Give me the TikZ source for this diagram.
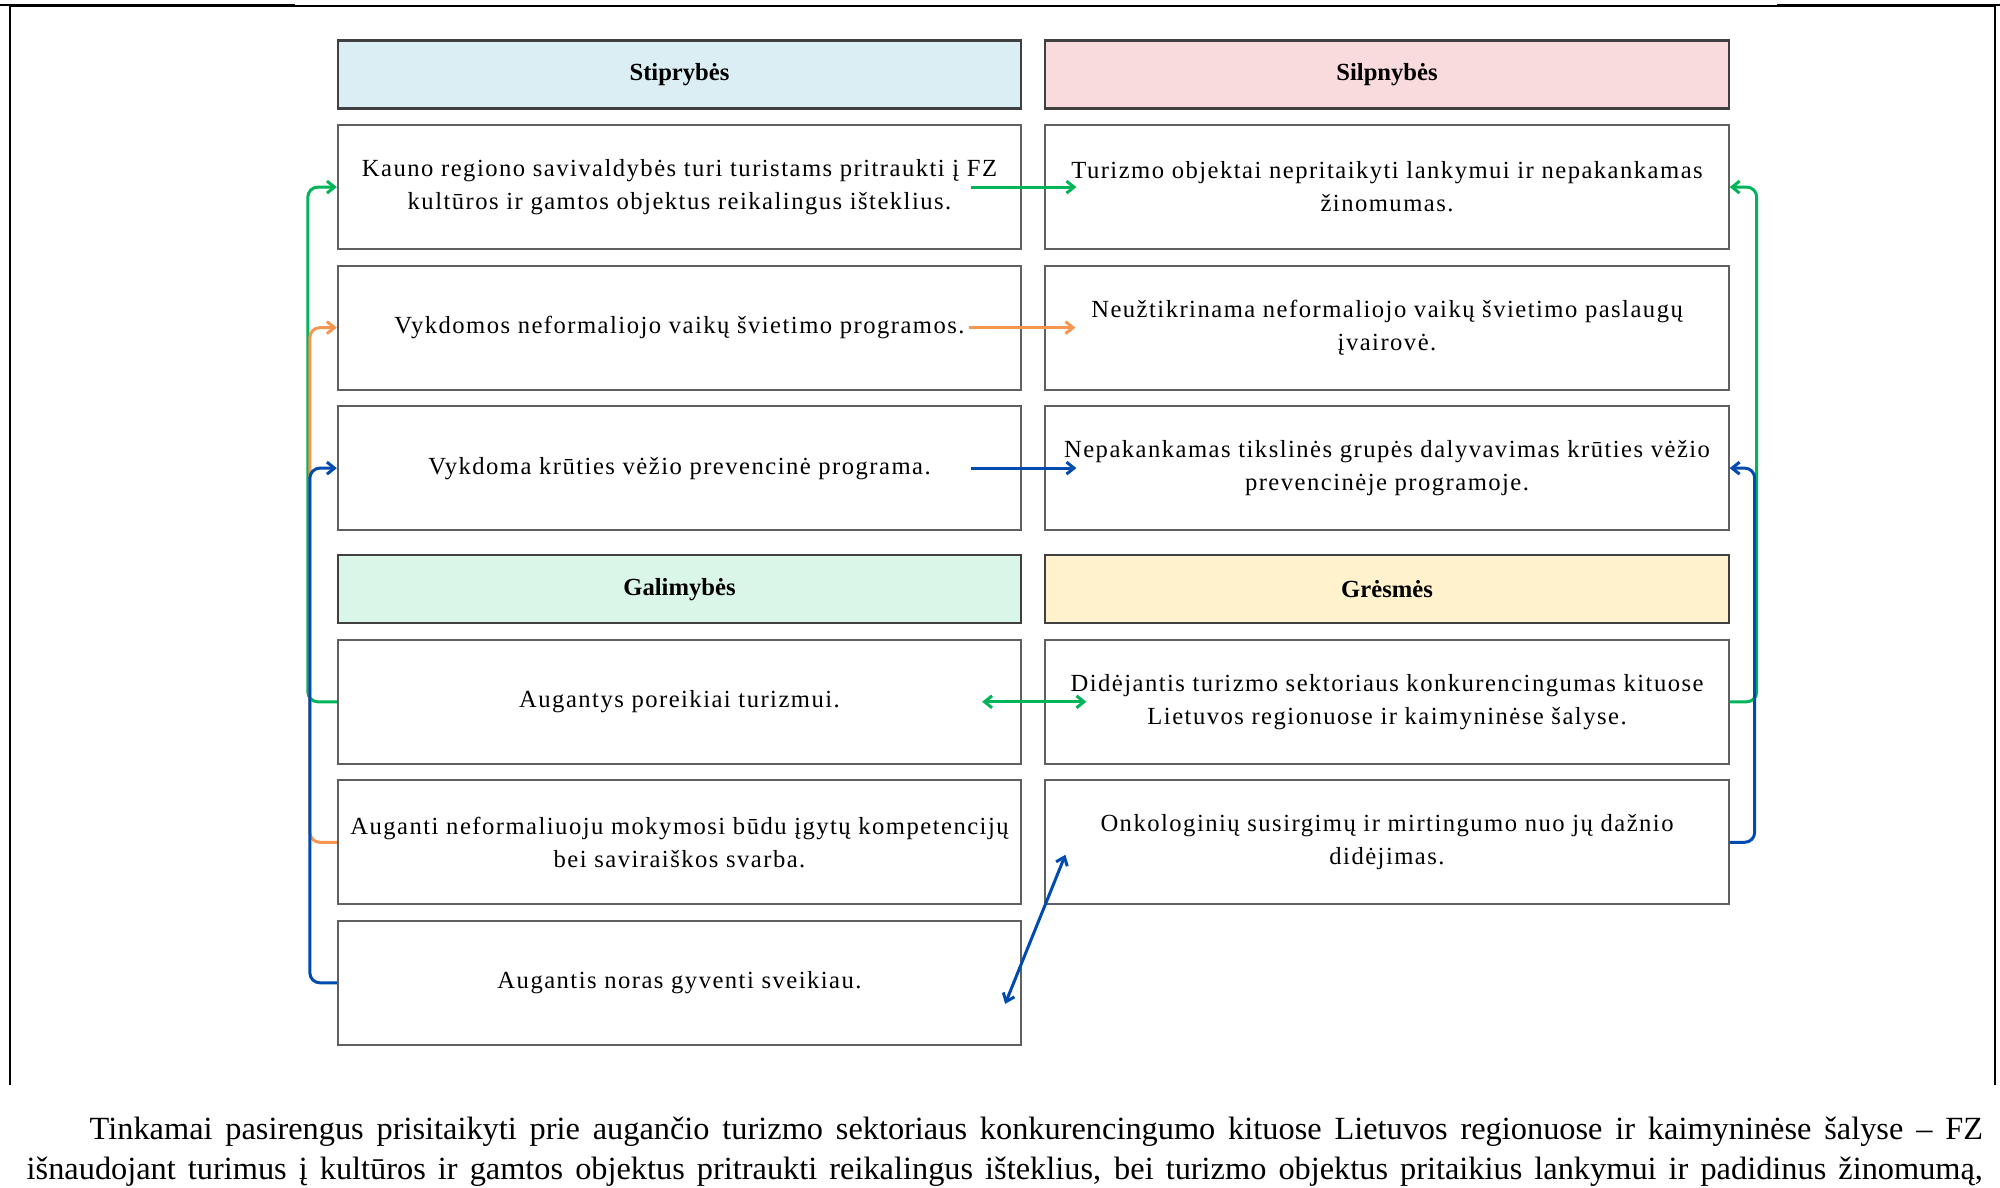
\documentclass[tikz,border=0pt]{standalone}
\usepackage{fontspec}
\setmainfont{Liberation Serif}
\newfontfamily\boxfont[LetterSpace=6]{Liberation Serif}
\usepackage{xcolor}
\usepackage{tikz}
\definecolor{strengthbg}{RGB}{218, 238, 243}
\definecolor{weakbg}{RGB}{249, 218, 221}
\definecolor{oppbg}{RGB}{218, 246, 233}
\definecolor{threatbg}{RGB}{255, 242, 204}
\definecolor{boxgray}{RGB}{96, 96, 96}
\definecolor{linkgreen}{RGB}{0, 180, 90}
\definecolor{linkorange}{RGB}{247, 150, 80}
\definecolor{linkblue}{RGB}{0, 75, 175}
\usetikzlibrary{arrows.meta, positioning, calc}

\begin{document}
\begin{tikzpicture}[
    x=0.01cm, y=-0.01cm,
    node distance=0.145cm and 0.22cm,
    head/.style={rectangle, draw=black!75, line width=0.6pt, minimum width=6.83cm,
                 minimum height=0.68cm, inner sep=0pt, font=\fontsize{7}{9}\selectfont\bfseries},
    cell/.style={rectangle, draw=boxgray, line width=0.55pt, fill=white, minimum width=6.83cm,
                 minimum height=1.24cm, inner sep=0pt, align=center, font=\boxfont\fontsize{7}{9.4}\selectfont},
    link/.style={line width=0.85pt, rounded corners=0.1cm, -{Straight Barb[length=0.75mm,width=1.2mm]}},
    twoway/.style={line width=0.85pt, {Straight Barb[length=0.75mm,width=1.2mm]}-{Straight Barb[length=0.75mm,width=1.2mm]}}
]
    \useasboundingbox (0,0) rectangle (2000,1187);

    % Page frame
    \draw[line width=0.37pt] (10,6) -- (1995,6);
    \draw[line width=0.77pt] (0,5) -- (295,5);
    \draw[line width=0.77pt] (1777,5) -- (2000,5);
    \draw[line width=0.57pt] (10,6) -- (10,1085);
    \draw[line width=0.57pt] (1995,6) -- (1995,1085);

    % Strengths / weaknesses
    \node[head, fill=strengthbg] at (679.5,74.5) (stip) {Stiprybės};
    \node[head, fill=weakbg, right=of stip] (silp) {Silpnybės};
    \node[cell, below=of stip] (s1) {Kauno regiono savivaldybės turi turistams pritraukti į FZ\\kultūros ir gamtos objektus reikalingus išteklius.};
    \node[cell, below=of s1] (s2) {Vykdomos neformaliojo vaikų švietimo programos.};
    \node[cell, below=of s2] (s3) {Vykdoma krūties vėžio prevencinė programa.};
    \node[cell, below=of silp] (w1) {Turizmo objektai nepritaikyti lankymui ir nepakankamas\\žinomumas.};
    \node[cell, below=of w1] (w2) {Neužtikrinama neformaliojo vaikų švietimo paslaugų\\įvairovė.};
    \node[cell, below=of w2] (w3) {Nepakankamas tikslinės grupės dalyvavimas krūties vėžio\\prevencinėje programoje.};

    % Opportunities / threats
    \node[head, fill=oppbg, below=0.23cm of s3] (gal) {Galimybės};
    \node[head, fill=threatbg, below=0.23cm of w3] (gres) {Grėsmės};
    \node[cell, below=of gal] (o1) {Augantys poreikiai turizmui.};
    \node[cell, below=of o1] (o2) {Auganti neformaliuoju mokymosi būdu įgytų kompetencijų\\bei saviraiškos svarba.};
    \node[cell, below=of o2] (o3) {Augantis noras gyventi sveikiau.};
    \node[cell, below=of gres] (t1) {Didėjantis turizmo sektoriaus konkurencingumas kituose\\Lietuvos regionuose ir kaimyninėse šalyse.};
    \node[cell, below=of t1] (t2) {Onkologinių susirgimų ir mirtingumo nuo jų dažnio\\didėjimas.};

    % Links
    \draw[link, linkgreen] (o1.west) -- ++(-29,0) |- (s1.west);
    \draw[link, linkorange] (o2.west) -- ++(-27,0) |- (s2.west);
    \draw[link, linkblue] (o3.west) -- ++(-27,0) |- (s3.west);
    \draw[link, linkgreen] (t1.east) -- ++(27,0) |- (w1.east);
    \draw[link, linkblue] (t2.east) -- ++(25,0) |- (w3.east);
    \draw[link, linkgreen] ([xshift=-0.51cm]s1.east) -- ([xshift=0.32cm]w1.west);
    \draw[link, linkorange] ([xshift=-0.53cm]s2.east) -- ([xshift=0.31cm]w2.west);
    \draw[link, linkblue] ([xshift=-0.51cm]s3.east) -- ([xshift=0.32cm]w3.west);
    \draw[twoway, linkgreen] ([xshift=-0.40cm]o1.east) -- ([xshift=0.42cm]t1.west);
    \draw[twoway, linkblue] ([xshift=-0.17cm,yshift=-0.21cm]o3.east) -- ([xshift=0.21cm,yshift=-0.125cm]t2.west);

    % Text below
    \node[anchor=north west, inner sep=0pt, text width=19.55cm, align=justify,
          font=\fontsize{9.2}{11.4}\selectfont] (para) at (26,1116)
        {\hspace*{0.63cm}Tinkamai pasirengus prisitaikyti prie augančio turizmo sektoriaus konkurencingumo kituose Lietuvos regionuose ir kaimyninėse šalyse – FZ\linebreak išnaudojant turimus į kultūros ir gamtos objektus pritraukti reikalingus išteklius, bei turizmo objektus pritaikius lankymui ir padidinus žinomumą,\parfillskip=0pt\par};
\end{tikzpicture}
\end{document}
